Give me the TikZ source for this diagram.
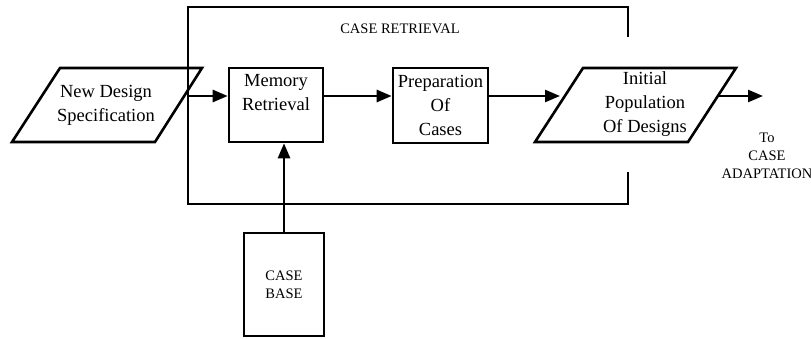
\documentclass[tikz,border=0pt]{standalone}
\usepackage{fontspec}
\setmainfont{Liberation Serif}
\usetikzlibrary{arrows.meta,calc}
\begin{document}
\begin{tikzpicture}[x=1pt,y=-1pt,
  line width=2.6pt,
  big/.style={font=\fontsize{18.5}{24}\selectfont, align=center, inner sep=0pt},
  small/.style={font=\fontsize{14.5}{18}\selectfont, align=center, inner sep=0pt},
  boxnode/.style={draw, rectangle, inner sep=0pt},
  arr/.style={-{Triangle[length=15pt,width=12pt]}},
]
\useasboundingbox (0,0) rectangle (811,339);

% frame of the case retrieval stage
\draw (628,37) -- (628,7) -- (188,7) -- (188,204) -- (628,204) -- (628,172);
\node[small] (title) at (400,29) {CASE RETRIEVAL};

% new design specification
\coordinate (s1) at (60,68);
\coordinate (s2) at (202,68);
\coordinate (s3) at (155,142);
\coordinate (s4) at (12,142);
\draw (s1) -- (s2) -- (s3) -- (s4) -- cycle;
\node[big] (spec) at (106,105) {New Design\\Specification};

% memory retrieval
\node[boxnode, minimum width=94pt, minimum height=74pt] (mem) at (276,105) {};
\node[big] (memt) at (276,93) {Memory\\Retrieval};

% preparation of cases
\node[boxnode, big, minimum width=95pt, minimum height=75pt] (prep) at (440.5,105.5) {Preparation\\Of\\Cases};

% initial population
\coordinate (p1) at (583,68);
\coordinate (p2) at (736,68);
\coordinate (p3) at (688,142);
\coordinate (p4) at (535,142);
\draw (p1) -- (p2) -- (p3) -- (p4) -- cycle;
\node[big] (pop) at (645,104) {Initial\\Population\\Of Designs};

% case base
\node[boxnode, small, minimum width=80pt, minimum height=103pt] (cb) at (284,284.5) {CASE\\BASE};

% connectors
\coordinate (fl) at (188,96);
\coordinate (pl) at (560,96);
\coordinate (pr) at (718,96);
\coordinate (out) at (763,96);
\draw[arr] (fl) -- (fl -| mem.west);
\draw[arr] (mem.east |- fl) -- (prep.west |- fl);
\draw[arr] (prep.east |- fl) -- (pl);
\draw[arr] (pr) -- (out);
\draw[arr] (cb.north) -- (cb.north |- mem.south);

\node[small] (toca) at (767,156) {To\\CASE\\ADAPTATION};
\end{tikzpicture}
\end{document}
